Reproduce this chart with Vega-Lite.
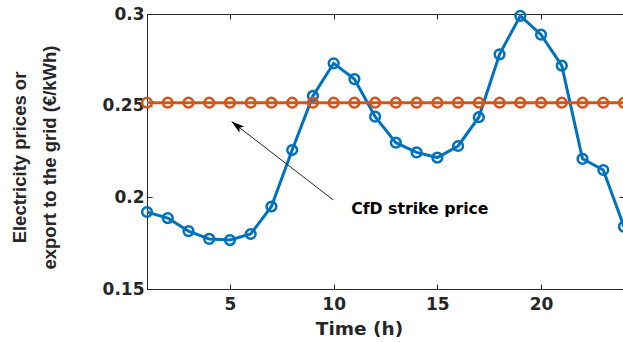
{
  "$schema": "https://vega.github.io/schema/vega-lite/v6.json",
  "width": 477,
  "height": 275,
  "autosize": "none",
  "padding": {"left": 147, "top": 14, "right": 0, "bottom": 53},
  "background": "white",
  "config": {
    "view": {"stroke": "#262626", "strokeWidth": 1},
    "font": "DejaVu Sans",
    "axis": {
      "domainColor": "#262626",
      "tickColor": "#262626",
      "labelColor": "#262626",
      "titleColor": "#262626",
      "labelFont": "DejaVu Sans",
      "titleFont": "DejaVu Sans",
      "labelFontWeight": "bold",
      "titleFontWeight": "bold",
      "labelFontSize": 17,
      "grid": false,
      "tickSize": -5
    }
  },
  "datasets": {
    "prices": [
      {"hour": 1, "value": 0.192, "series": "Electricity price"},
      {"hour": 2, "value": 0.1887, "series": "Electricity price"},
      {"hour": 3, "value": 0.1816, "series": "Electricity price"},
      {"hour": 4, "value": 0.1773, "series": "Electricity price"},
      {"hour": 5, "value": 0.1767, "series": "Electricity price"},
      {"hour": 6, "value": 0.18, "series": "Electricity price"},
      {"hour": 7, "value": 0.195, "series": "Electricity price"},
      {"hour": 8, "value": 0.2258, "series": "Electricity price"},
      {"hour": 9, "value": 0.2553, "series": "Electricity price"},
      {"hour": 10, "value": 0.2731, "series": "Electricity price"},
      {"hour": 11, "value": 0.2645, "series": "Electricity price"},
      {"hour": 12, "value": 0.244, "series": "Electricity price"},
      {"hour": 13, "value": 0.2298, "series": "Electricity price"},
      {"hour": 14, "value": 0.2245, "series": "Electricity price"},
      {"hour": 15, "value": 0.2217, "series": "Electricity price"},
      {"hour": 16, "value": 0.228, "series": "Electricity price"},
      {"hour": 17, "value": 0.2437, "series": "Electricity price"},
      {"hour": 18, "value": 0.2780, "series": "Electricity price"},
      {"hour": 19, "value": 0.2990, "series": "Electricity price"},
      {"hour": 20, "value": 0.2887, "series": "Electricity price"},
      {"hour": 21, "value": 0.2718, "series": "Electricity price"},
      {"hour": 22, "value": 0.221, "series": "Electricity price"},
      {"hour": 23, "value": 0.2149, "series": "Electricity price"},
      {"hour": 24, "value": 0.184, "series": "Electricity price"}
    ],
    "strike": [
      {"hour": 1, "value": 0.2516}, {"hour": 2, "value": 0.2516}, {"hour": 3, "value": 0.2516},
      {"hour": 4, "value": 0.2516}, {"hour": 5, "value": 0.2516}, {"hour": 6, "value": 0.2516},
      {"hour": 7, "value": 0.2516}, {"hour": 8, "value": 0.2516}, {"hour": 9, "value": 0.2516},
      {"hour": 10, "value": 0.2516}, {"hour": 11, "value": 0.2516}, {"hour": 12, "value": 0.2516},
      {"hour": 13, "value": 0.2516}, {"hour": 14, "value": 0.2516}, {"hour": 15, "value": 0.2516},
      {"hour": 16, "value": 0.2516}, {"hour": 17, "value": 0.2516}, {"hour": 18, "value": 0.2516},
      {"hour": 19, "value": 0.2516}, {"hour": 20, "value": 0.2516}, {"hour": 21, "value": 0.2516},
      {"hour": 22, "value": 0.2516}, {"hour": 23, "value": 0.2516}, {"hour": 24, "value": 0.2516}
    ],
    "arrow": [
      {"hour": 9.98, "value": 0.1986, "order": 1},
      {"hour": 5.08, "value": 0.2413, "order": 2}
    ],
    "arrowhead": [{"hour": 5.08, "value": 0.2413}],
    "label": [{"hour": 10.85, "value": 0.1937, "text": "CfD strike price"}]
  },
  "layer": [
    {
      "data": {"name": "prices"},
      "mark": {
        "type": "line",
        "color": "#0072BD",
        "strokeWidth": 3,
        "point": {"filled": false, "stroke": "#0072BD", "fill": "white", "fillOpacity": 0, "strokeWidth": 2.5, "size": 95}
      },
      "encoding": {
        "x": {
          "field": "hour", "type": "quantitative",
          "scale": {"domain": [1, 24], "nice": false, "zero": false},
          "axis": {
            "values": [5, 10, 15, 20],
            "title": "Time (h)",
            "titleFontSize": 18.5,
            "titleX": 212,
            "titleY": 45,
            "titleBaseline": "alphabetic",
            "labelPadding": 12
          }
        },
        "y": {
          "field": "value", "type": "quantitative",
          "scale": {"domain": [0.15, 0.3], "nice": false, "zero": false},
          "axis": {
            "values": [0.15, 0.2, 0.25, 0.3],
            "format": "~g",
            "labelPadding": 8,
            "title": ["Electricity prices or", "export to the grid (€/kWh)"],
            "titleFont": "Liberation Sans",
            "titleFontSize": 18.5,
            "titleLineHeight": 30,
            "titleAngle": -90,
            "titleBaseline": "top",
            "titleAlign": "center",
            "titleX": -137,
            "titleY": 143
          }
        }
      }
    },
    {
      "data": {"name": "strike"},
      "mark": {
        "type": "line",
        "color": "#D95319",
        "strokeWidth": 3,
        "point": {"filled": false, "stroke": "#D95319", "fill": "white", "fillOpacity": 0, "strokeWidth": 2.5, "size": 95}
      },
      "encoding": {
        "x": {"field": "hour", "type": "quantitative", "axis": {"orient": "top", "values": [5, 10, 15, 20], "labels": false, "title": null, "domain": false}},
        "y": {"field": "value", "type": "quantitative", "axis": {"orient": "right", "values": [0.15, 0.2, 0.25, 0.3], "labels": false, "title": null, "domain": false}}
      }
    },
    {
      "data": {"name": "arrow"},
      "mark": {"type": "line", "color": "#262626", "strokeWidth": 1},
      "encoding": {
        "x": {"field": "hour", "type": "quantitative", "axis": null},
        "y": {"field": "value", "type": "quantitative", "axis": null},
        "order": {"field": "order"}
      }
    },
    {
      "data": {"name": "arrowhead"},
      "mark": {"type": "point", "shape": "M0,0L-0.45,1.5L0,1.15L0.45,1.5Z", "filled": true, "color": "#000000", "opacity": 1, "size": 300, "angle": 307.6},
      "encoding": {
        "x": {"field": "hour", "type": "quantitative", "axis": null},
        "y": {"field": "value", "type": "quantitative", "axis": null}
      }
    },
    {
      "data": {"name": "label"},
      "mark": {"type": "text", "align": "left", "baseline": "middle", "fontSize": 15.7, "fontWeight": "bold", "font": "DejaVu Sans", "color": "#000000"},
      "encoding": {
        "x": {"field": "hour", "type": "quantitative", "axis": null},
        "y": {"field": "value", "type": "quantitative", "axis": null},
        "text": {"field": "text"}
      }
    }
  ],
  "resolve": {"axis": {"x": "independent", "y": "independent"}}
}
